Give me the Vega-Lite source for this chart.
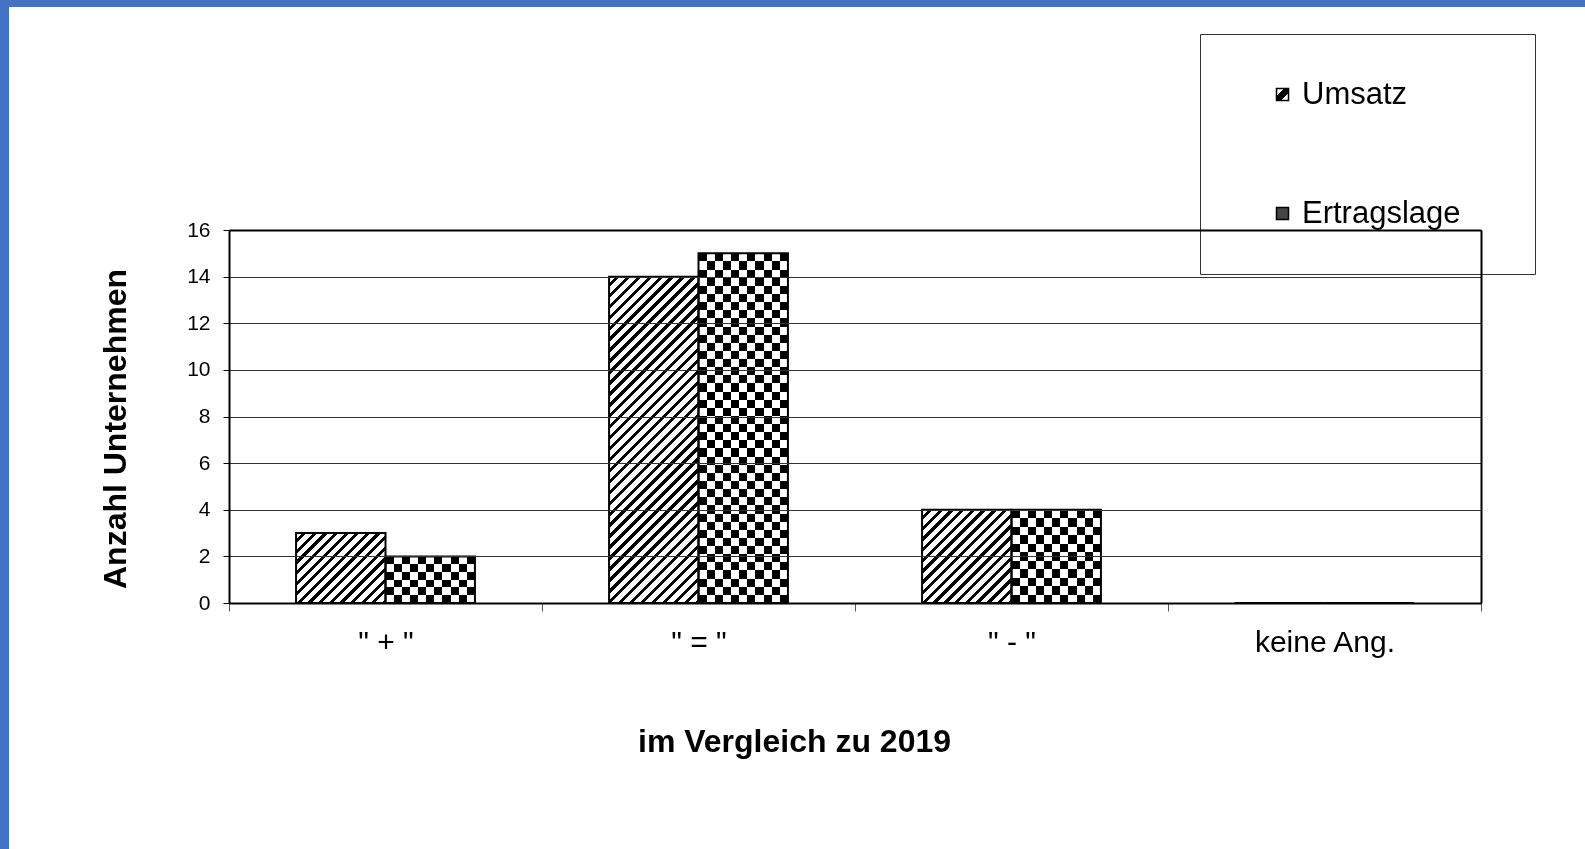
{
  "$schema": "https://vega.github.io/schema/vega-lite/v6.json",
  "width": 1576,
  "height": 842,
  "autosize": "none",
  "padding": {"left": 9, "top": 7, "right": 0, "bottom": 0},
  "background": "#4472C4",
  "config": {
    "font": "Liberation Sans",
    "view": {"stroke": null, "fill": "white"},
    "axis": {"labelColor": "#000", "titleColor": "#000", "domainColor": "#000", "tickColor": "#000", "labelFont": "Liberation Sans", "titleFont": "Liberation Sans"}
  },
  "data": {
    "values": [
      {"cat": "\" + \"", "series": "Umsatz", "value": 3},
      {"cat": "\" + \"", "series": "Ertragslage", "value": 2},
      {"cat": "\" = \"", "series": "Umsatz", "value": 14},
      {"cat": "\" = \"", "series": "Ertragslage", "value": 15},
      {"cat": "\" - \"", "series": "Umsatz", "value": 4},
      {"cat": "\" - \"", "series": "Ertragslage", "value": 4},
      {"cat": "keine Ang.", "series": "Umsatz", "value": 0},
      {"cat": "keine Ang.", "series": "Ertragslage", "value": 0}
    ]
  },
  "layer": [
    {
      "mark": {"type": "bar"},
      "encoding": {
        "x": {
          "field": "cat", "type": "nominal",
          "scale": {"domain": ["\" + \"", "\" = \"", "\" - \"", "keine Ang."], "range": [220, 1472], "paddingInner": 0, "paddingOuter": 0},
          "axis": {
            "orient": "bottom", "offset": -246, "tickBand": "extent", "ticks": true, "tickSize": 8, "tickColor": "#555", "tickWidth": 1,
            "domain": true, "domainWidth": 2, "grid": false, "labelAngle": 0, "labelFontSize": 30, "labelPadding": 16, "labelLimit": 400,
            "title": "im Vergleich zu 2019", "titleFontSize": 32, "titleFontWeight": "bold", "titleX": 785, "titleY": 123, "titleBaseline": "top", "zindex": 1
          }
        },
        "xOffset": {"field": "series", "type": "nominal", "scale": {"domain": ["Umsatz", "Ertragslage"], "paddingInner": 0, "paddingOuter": 0.75}},
        "y": {
          "field": "value", "type": "quantitative",
          "scale": {"domain": [0, 16], "range": [596, 223], "nice": false},
          "axis": {
            "orient": "left", "offset": -220, "values": [0, 2, 4, 6, 8, 10, 12, 14, 16], "grid": true, "gridColor": "#333", "gridWidth": 1,
            "domain": true, "domainWidth": 2, "ticks": true, "tickSize": 6, "labelFontSize": 21, "labelPadding": 13,
            "title": "Anzahl Unternehmen", "titleFontSize": 32, "titleFontWeight": "bold", "titleX": -97, "titleY": 421.5, "zindex": 1
          }
        },
        "fill": {
          "value": "#777777",
          "condition": [
            {"test": "datum.series==='Umsatz' && datum.value===3", "value": {"gradient": "linear", "x1": 0, "y1": 0, "x2": 1.1058, "y2": 0.8648, "stops": [
              {"offset": 0, "color": "#fff"}, {"offset": 0.04, "color": "#fff"}, {"offset": 0.04, "color": "#000"}, {"offset": 0.0667, "color": "#000"},
              {"offset": 0.0667, "color": "#fff"}, {"offset": 0.1067, "color": "#fff"}, {"offset": 0.1067, "color": "#000"}, {"offset": 0.1333, "color": "#000"},
              {"offset": 0.1333, "color": "#fff"}, {"offset": 0.1733, "color": "#fff"}, {"offset": 0.1733, "color": "#000"}, {"offset": 0.2, "color": "#000"},
              {"offset": 0.2, "color": "#fff"}, {"offset": 0.24, "color": "#fff"}, {"offset": 0.24, "color": "#000"}, {"offset": 0.2667, "color": "#000"},
              {"offset": 0.2667, "color": "#fff"}, {"offset": 0.3067, "color": "#fff"}, {"offset": 0.3067, "color": "#000"}, {"offset": 0.3333, "color": "#000"},
              {"offset": 0.3333, "color": "#fff"}, {"offset": 0.3733, "color": "#fff"}, {"offset": 0.3733, "color": "#000"}, {"offset": 0.4, "color": "#000"},
              {"offset": 0.4, "color": "#fff"}, {"offset": 0.44, "color": "#fff"}, {"offset": 0.44, "color": "#000"}, {"offset": 0.4667, "color": "#000"},
              {"offset": 0.4667, "color": "#fff"}, {"offset": 0.5067, "color": "#fff"}, {"offset": 0.5067, "color": "#000"}, {"offset": 0.5333, "color": "#000"},
              {"offset": 0.5333, "color": "#fff"}, {"offset": 0.5733, "color": "#fff"}, {"offset": 0.5733, "color": "#000"}, {"offset": 0.6, "color": "#000"},
              {"offset": 0.6, "color": "#fff"}, {"offset": 0.64, "color": "#fff"}, {"offset": 0.64, "color": "#000"}, {"offset": 0.6667, "color": "#000"},
              {"offset": 0.6667, "color": "#fff"}, {"offset": 0.7067, "color": "#fff"}, {"offset": 0.7067, "color": "#000"}, {"offset": 0.7333, "color": "#000"},
              {"offset": 0.7333, "color": "#fff"}, {"offset": 0.7733, "color": "#fff"}, {"offset": 0.7733, "color": "#000"}, {"offset": 0.8, "color": "#000"},
              {"offset": 0.8, "color": "#fff"}, {"offset": 0.84, "color": "#fff"}, {"offset": 0.84, "color": "#000"}, {"offset": 0.8667, "color": "#000"},
              {"offset": 0.8667, "color": "#fff"}, {"offset": 0.9067, "color": "#fff"}, {"offset": 0.9067, "color": "#000"}, {"offset": 0.9333, "color": "#000"},
              {"offset": 0.9333, "color": "#fff"}, {"offset": 0.9733, "color": "#fff"}, {"offset": 0.9733, "color": "#000"}, {"offset": 1, "color": "#000"}
            ]}},
            {"test": "datum.series==='Umsatz' && datum.value===14", "value": {"gradient": "linear", "x1": 0, "y1": 0, "x2": 0.3247, "y2": 1.185, "stops": [
              {"offset": 0, "color": "#fff"}, {"offset": 0.0158, "color": "#fff"}, {"offset": 0.0158, "color": "#000"}, {"offset": 0.0263, "color": "#000"},
              {"offset": 0.0263, "color": "#fff"}, {"offset": 0.0421, "color": "#fff"}, {"offset": 0.0421, "color": "#000"}, {"offset": 0.0526, "color": "#000"},
              {"offset": 0.0526, "color": "#fff"}, {"offset": 0.0684, "color": "#fff"}, {"offset": 0.0684, "color": "#000"}, {"offset": 0.0789, "color": "#000"},
              {"offset": 0.0789, "color": "#fff"}, {"offset": 0.0947, "color": "#fff"}, {"offset": 0.0947, "color": "#000"}, {"offset": 0.1053, "color": "#000"},
              {"offset": 0.1053, "color": "#fff"}, {"offset": 0.1211, "color": "#fff"}, {"offset": 0.1211, "color": "#000"}, {"offset": 0.1316, "color": "#000"},
              {"offset": 0.1316, "color": "#fff"}, {"offset": 0.1474, "color": "#fff"}, {"offset": 0.1474, "color": "#000"}, {"offset": 0.1579, "color": "#000"},
              {"offset": 0.1579, "color": "#fff"}, {"offset": 0.1737, "color": "#fff"}, {"offset": 0.1737, "color": "#000"}, {"offset": 0.1842, "color": "#000"},
              {"offset": 0.1842, "color": "#fff"}, {"offset": 0.2, "color": "#fff"}, {"offset": 0.2, "color": "#000"}, {"offset": 0.2105, "color": "#000"},
              {"offset": 0.2105, "color": "#fff"}, {"offset": 0.2263, "color": "#fff"}, {"offset": 0.2263, "color": "#000"}, {"offset": 0.2368, "color": "#000"},
              {"offset": 0.2368, "color": "#fff"}, {"offset": 0.2526, "color": "#fff"}, {"offset": 0.2526, "color": "#000"}, {"offset": 0.2632, "color": "#000"},
              {"offset": 0.2632, "color": "#fff"}, {"offset": 0.2789, "color": "#fff"}, {"offset": 0.2789, "color": "#000"}, {"offset": 0.2895, "color": "#000"},
              {"offset": 0.2895, "color": "#fff"}, {"offset": 0.3053, "color": "#fff"}, {"offset": 0.3053, "color": "#000"}, {"offset": 0.3158, "color": "#000"},
              {"offset": 0.3158, "color": "#fff"}, {"offset": 0.3316, "color": "#fff"}, {"offset": 0.3316, "color": "#000"}, {"offset": 0.3421, "color": "#000"},
              {"offset": 0.3421, "color": "#fff"}, {"offset": 0.3579, "color": "#fff"}, {"offset": 0.3579, "color": "#000"}, {"offset": 0.3684, "color": "#000"},
              {"offset": 0.3684, "color": "#fff"}, {"offset": 0.3842, "color": "#fff"}, {"offset": 0.3842, "color": "#000"}, {"offset": 0.3947, "color": "#000"},
              {"offset": 0.3947, "color": "#fff"}, {"offset": 0.4105, "color": "#fff"}, {"offset": 0.4105, "color": "#000"}, {"offset": 0.4211, "color": "#000"},
              {"offset": 0.4211, "color": "#fff"}, {"offset": 0.4368, "color": "#fff"}, {"offset": 0.4368, "color": "#000"}, {"offset": 0.4474, "color": "#000"},
              {"offset": 0.4474, "color": "#fff"}, {"offset": 0.4632, "color": "#fff"}, {"offset": 0.4632, "color": "#000"}, {"offset": 0.4737, "color": "#000"},
              {"offset": 0.4737, "color": "#fff"}, {"offset": 0.4895, "color": "#fff"}, {"offset": 0.4895, "color": "#000"}, {"offset": 0.5, "color": "#000"},
              {"offset": 0.5, "color": "#fff"}, {"offset": 0.5158, "color": "#fff"}, {"offset": 0.5158, "color": "#000"}, {"offset": 0.5263, "color": "#000"},
              {"offset": 0.5263, "color": "#fff"}, {"offset": 0.5421, "color": "#fff"}, {"offset": 0.5421, "color": "#000"}, {"offset": 0.5526, "color": "#000"},
              {"offset": 0.5526, "color": "#fff"}, {"offset": 0.5684, "color": "#fff"}, {"offset": 0.5684, "color": "#000"}, {"offset": 0.5789, "color": "#000"},
              {"offset": 0.5789, "color": "#fff"}, {"offset": 0.5947, "color": "#fff"}, {"offset": 0.5947, "color": "#000"}, {"offset": 0.6053, "color": "#000"},
              {"offset": 0.6053, "color": "#fff"}, {"offset": 0.6211, "color": "#fff"}, {"offset": 0.6211, "color": "#000"}, {"offset": 0.6316, "color": "#000"},
              {"offset": 0.6316, "color": "#fff"}, {"offset": 0.6474, "color": "#fff"}, {"offset": 0.6474, "color": "#000"}, {"offset": 0.6579, "color": "#000"},
              {"offset": 0.6579, "color": "#fff"}, {"offset": 0.6737, "color": "#fff"}, {"offset": 0.6737, "color": "#000"}, {"offset": 0.6842, "color": "#000"},
              {"offset": 0.6842, "color": "#fff"}, {"offset": 0.7, "color": "#fff"}, {"offset": 0.7, "color": "#000"}, {"offset": 0.7105, "color": "#000"},
              {"offset": 0.7105, "color": "#fff"}, {"offset": 0.7263, "color": "#fff"}, {"offset": 0.7263, "color": "#000"}, {"offset": 0.7368, "color": "#000"},
              {"offset": 0.7368, "color": "#fff"}, {"offset": 0.7526, "color": "#fff"}, {"offset": 0.7526, "color": "#000"}, {"offset": 0.7632, "color": "#000"},
              {"offset": 0.7632, "color": "#fff"}, {"offset": 0.7789, "color": "#fff"}, {"offset": 0.7789, "color": "#000"}, {"offset": 0.7895, "color": "#000"},
              {"offset": 0.7895, "color": "#fff"}, {"offset": 0.8053, "color": "#fff"}, {"offset": 0.8053, "color": "#000"}, {"offset": 0.8158, "color": "#000"},
              {"offset": 0.8158, "color": "#fff"}, {"offset": 0.8316, "color": "#fff"}, {"offset": 0.8316, "color": "#000"}, {"offset": 0.8421, "color": "#000"},
              {"offset": 0.8421, "color": "#fff"}, {"offset": 0.8579, "color": "#fff"}, {"offset": 0.8579, "color": "#000"}, {"offset": 0.8684, "color": "#000"},
              {"offset": 0.8684, "color": "#fff"}, {"offset": 0.8842, "color": "#fff"}, {"offset": 0.8842, "color": "#000"}, {"offset": 0.8947, "color": "#000"},
              {"offset": 0.8947, "color": "#fff"}, {"offset": 0.9105, "color": "#fff"}, {"offset": 0.9105, "color": "#000"}, {"offset": 0.9211, "color": "#000"},
              {"offset": 0.9211, "color": "#fff"}, {"offset": 0.9368, "color": "#fff"}, {"offset": 0.9368, "color": "#000"}, {"offset": 0.9474, "color": "#000"},
              {"offset": 0.9474, "color": "#fff"}, {"offset": 0.9632, "color": "#fff"}, {"offset": 0.9632, "color": "#000"}, {"offset": 0.9737, "color": "#000"},
              {"offset": 0.9737, "color": "#fff"}, {"offset": 0.9895, "color": "#fff"}, {"offset": 0.9895, "color": "#000"}, {"offset": 1, "color": "#000"}
            ]}},
            {"test": "datum.series==='Umsatz' && datum.value===4", "value": {"gradient": "linear", "x1": 0, "y1": 0, "x2": 0.9787, "y2": 1.0205, "stops": [
              {"offset": 0, "color": "#fff"}, {"offset": 0.0353, "color": "#fff"}, {"offset": 0.0353, "color": "#000"}, {"offset": 0.0588, "color": "#000"},
              {"offset": 0.0588, "color": "#fff"}, {"offset": 0.0941, "color": "#fff"}, {"offset": 0.0941, "color": "#000"}, {"offset": 0.1176, "color": "#000"},
              {"offset": 0.1176, "color": "#fff"}, {"offset": 0.1529, "color": "#fff"}, {"offset": 0.1529, "color": "#000"}, {"offset": 0.1765, "color": "#000"},
              {"offset": 0.1765, "color": "#fff"}, {"offset": 0.2118, "color": "#fff"}, {"offset": 0.2118, "color": "#000"}, {"offset": 0.2353, "color": "#000"},
              {"offset": 0.2353, "color": "#fff"}, {"offset": 0.2706, "color": "#fff"}, {"offset": 0.2706, "color": "#000"}, {"offset": 0.2941, "color": "#000"},
              {"offset": 0.2941, "color": "#fff"}, {"offset": 0.3294, "color": "#fff"}, {"offset": 0.3294, "color": "#000"}, {"offset": 0.3529, "color": "#000"},
              {"offset": 0.3529, "color": "#fff"}, {"offset": 0.3882, "color": "#fff"}, {"offset": 0.3882, "color": "#000"}, {"offset": 0.4118, "color": "#000"},
              {"offset": 0.4118, "color": "#fff"}, {"offset": 0.4471, "color": "#fff"}, {"offset": 0.4471, "color": "#000"}, {"offset": 0.4706, "color": "#000"},
              {"offset": 0.4706, "color": "#fff"}, {"offset": 0.5059, "color": "#fff"}, {"offset": 0.5059, "color": "#000"}, {"offset": 0.5294, "color": "#000"},
              {"offset": 0.5294, "color": "#fff"}, {"offset": 0.5647, "color": "#fff"}, {"offset": 0.5647, "color": "#000"}, {"offset": 0.5882, "color": "#000"},
              {"offset": 0.5882, "color": "#fff"}, {"offset": 0.6235, "color": "#fff"}, {"offset": 0.6235, "color": "#000"}, {"offset": 0.6471, "color": "#000"},
              {"offset": 0.6471, "color": "#fff"}, {"offset": 0.6824, "color": "#fff"}, {"offset": 0.6824, "color": "#000"}, {"offset": 0.7059, "color": "#000"},
              {"offset": 0.7059, "color": "#fff"}, {"offset": 0.7412, "color": "#fff"}, {"offset": 0.7412, "color": "#000"}, {"offset": 0.7647, "color": "#000"},
              {"offset": 0.7647, "color": "#fff"}, {"offset": 0.8, "color": "#fff"}, {"offset": 0.8, "color": "#000"}, {"offset": 0.8235, "color": "#000"},
              {"offset": 0.8235, "color": "#fff"}, {"offset": 0.8588, "color": "#fff"}, {"offset": 0.8588, "color": "#000"}, {"offset": 0.8824, "color": "#000"},
              {"offset": 0.8824, "color": "#fff"}, {"offset": 0.9176, "color": "#fff"}, {"offset": 0.9176, "color": "#000"}, {"offset": 0.9412, "color": "#000"},
              {"offset": 0.9412, "color": "#fff"}, {"offset": 0.9765, "color": "#fff"}, {"offset": 0.9765, "color": "#000"}, {"offset": 1, "color": "#000"}
            ]}},
            {"test": "datum.series==='Ertragslage' && datum.value===2", "value": {"gradient": "linear", "x1": 0, "y1": 0, "x2": 0, "y2": 1, "stops": [
              {"offset": 0, "color": "#fff"}, {"offset": 0.1667, "color": "#fff"}, {"offset": 0.1667, "color": "#000"}, {"offset": 0.3333, "color": "#000"},
              {"offset": 0.3333, "color": "#fff"}, {"offset": 0.5, "color": "#fff"}, {"offset": 0.5, "color": "#000"}, {"offset": 0.6667, "color": "#000"},
              {"offset": 0.6667, "color": "#fff"}, {"offset": 0.8333, "color": "#fff"}, {"offset": 0.8333, "color": "#000"}, {"offset": 1, "color": "#000"}
            ]}},
            {"test": "datum.series==='Ertragslage' && datum.value===4", "value": {"gradient": "linear", "x1": 0, "y1": 0, "x2": 0, "y2": 1, "stops": [
              {"offset": 0, "color": "#fff"}, {"offset": 0.0909, "color": "#fff"}, {"offset": 0.0909, "color": "#000"}, {"offset": 0.1818, "color": "#000"},
              {"offset": 0.1818, "color": "#fff"}, {"offset": 0.2727, "color": "#fff"}, {"offset": 0.2727, "color": "#000"}, {"offset": 0.3636, "color": "#000"},
              {"offset": 0.3636, "color": "#fff"}, {"offset": 0.4545, "color": "#fff"}, {"offset": 0.4545, "color": "#000"}, {"offset": 0.5455, "color": "#000"},
              {"offset": 0.5455, "color": "#fff"}, {"offset": 0.6364, "color": "#fff"}, {"offset": 0.6364, "color": "#000"}, {"offset": 0.7273, "color": "#000"},
              {"offset": 0.7273, "color": "#fff"}, {"offset": 0.8182, "color": "#fff"}, {"offset": 0.8182, "color": "#000"}, {"offset": 0.9091, "color": "#000"},
              {"offset": 0.9091, "color": "#fff"}, {"offset": 1, "color": "#fff"}
            ]}},
            {"test": "datum.series==='Ertragslage' && datum.value===15", "value": {"gradient": "linear", "x1": 0, "y1": 0, "x2": 0, "y2": 1, "stops": [
              {"offset": 0, "color": "#fff"}, {"offset": 0.0233, "color": "#fff"}, {"offset": 0.0233, "color": "#000"}, {"offset": 0.0465, "color": "#000"},
              {"offset": 0.0465, "color": "#fff"}, {"offset": 0.0698, "color": "#fff"}, {"offset": 0.0698, "color": "#000"}, {"offset": 0.093, "color": "#000"},
              {"offset": 0.093, "color": "#fff"}, {"offset": 0.1163, "color": "#fff"}, {"offset": 0.1163, "color": "#000"}, {"offset": 0.1395, "color": "#000"},
              {"offset": 0.1395, "color": "#fff"}, {"offset": 0.1628, "color": "#fff"}, {"offset": 0.1628, "color": "#000"}, {"offset": 0.186, "color": "#000"},
              {"offset": 0.186, "color": "#fff"}, {"offset": 0.2093, "color": "#fff"}, {"offset": 0.2093, "color": "#000"}, {"offset": 0.2326, "color": "#000"},
              {"offset": 0.2326, "color": "#fff"}, {"offset": 0.2558, "color": "#fff"}, {"offset": 0.2558, "color": "#000"}, {"offset": 0.2791, "color": "#000"},
              {"offset": 0.2791, "color": "#fff"}, {"offset": 0.3023, "color": "#fff"}, {"offset": 0.3023, "color": "#000"}, {"offset": 0.3256, "color": "#000"},
              {"offset": 0.3256, "color": "#fff"}, {"offset": 0.3488, "color": "#fff"}, {"offset": 0.3488, "color": "#000"}, {"offset": 0.3721, "color": "#000"},
              {"offset": 0.3721, "color": "#fff"}, {"offset": 0.3953, "color": "#fff"}, {"offset": 0.3953, "color": "#000"}, {"offset": 0.4186, "color": "#000"},
              {"offset": 0.4186, "color": "#fff"}, {"offset": 0.4419, "color": "#fff"}, {"offset": 0.4419, "color": "#000"}, {"offset": 0.4651, "color": "#000"},
              {"offset": 0.4651, "color": "#fff"}, {"offset": 0.4884, "color": "#fff"}, {"offset": 0.4884, "color": "#000"}, {"offset": 0.5116, "color": "#000"},
              {"offset": 0.5116, "color": "#fff"}, {"offset": 0.5349, "color": "#fff"}, {"offset": 0.5349, "color": "#000"}, {"offset": 0.5581, "color": "#000"},
              {"offset": 0.5581, "color": "#fff"}, {"offset": 0.5814, "color": "#fff"}, {"offset": 0.5814, "color": "#000"}, {"offset": 0.6047, "color": "#000"},
              {"offset": 0.6047, "color": "#fff"}, {"offset": 0.6279, "color": "#fff"}, {"offset": 0.6279, "color": "#000"}, {"offset": 0.6512, "color": "#000"},
              {"offset": 0.6512, "color": "#fff"}, {"offset": 0.6744, "color": "#fff"}, {"offset": 0.6744, "color": "#000"}, {"offset": 0.6977, "color": "#000"},
              {"offset": 0.6977, "color": "#fff"}, {"offset": 0.7209, "color": "#fff"}, {"offset": 0.7209, "color": "#000"}, {"offset": 0.7442, "color": "#000"},
              {"offset": 0.7442, "color": "#fff"}, {"offset": 0.7674, "color": "#fff"}, {"offset": 0.7674, "color": "#000"}, {"offset": 0.7907, "color": "#000"},
              {"offset": 0.7907, "color": "#fff"}, {"offset": 0.814, "color": "#fff"}, {"offset": 0.814, "color": "#000"}, {"offset": 0.8372, "color": "#000"},
              {"offset": 0.8372, "color": "#fff"}, {"offset": 0.8605, "color": "#fff"}, {"offset": 0.8605, "color": "#000"}, {"offset": 0.8837, "color": "#000"},
              {"offset": 0.8837, "color": "#fff"}, {"offset": 0.907, "color": "#fff"}, {"offset": 0.907, "color": "#000"}, {"offset": 0.9302, "color": "#000"},
              {"offset": 0.9302, "color": "#fff"}, {"offset": 0.9535, "color": "#fff"}, {"offset": 0.9535, "color": "#000"}, {"offset": 0.9767, "color": "#000"},
              {"offset": 0.9767, "color": "#fff"}, {"offset": 1, "color": "#fff"}
            ]}}
          ]
        }
      }
    },
    {
      "transform": [{"filter": "datum.series==='Ertragslage' && datum.value>0"}],
      "mark": {"type": "bar", "blend": "difference", "strokeWidth": 0, "fill": {"gradient": "linear", "x1": 0, "y1": 0, "x2": 1, "y2": 0, "stops": [
        {"offset": 0, "color": "#fff"}, {"offset": 0.0909, "color": "#fff"}, {"offset": 0.0909, "color": "#000"}, {"offset": 0.1818, "color": "#000"},
        {"offset": 0.1818, "color": "#fff"}, {"offset": 0.2727, "color": "#fff"}, {"offset": 0.2727, "color": "#000"}, {"offset": 0.3636, "color": "#000"},
        {"offset": 0.3636, "color": "#fff"}, {"offset": 0.4545, "color": "#fff"}, {"offset": 0.4545, "color": "#000"}, {"offset": 0.5455, "color": "#000"},
        {"offset": 0.5455, "color": "#fff"}, {"offset": 0.6364, "color": "#fff"}, {"offset": 0.6364, "color": "#000"}, {"offset": 0.7273, "color": "#000"},
        {"offset": 0.7273, "color": "#fff"}, {"offset": 0.8182, "color": "#fff"}, {"offset": 0.8182, "color": "#000"}, {"offset": 0.9091, "color": "#000"},
        {"offset": 0.9091, "color": "#fff"}, {"offset": 1, "color": "#fff"}
      ]}},
      "encoding": {
        "x": {"field": "cat", "type": "nominal", "axis": null},
        "xOffset": {"field": "series", "type": "nominal"},
        "y": {"field": "value", "type": "quantitative", "axis": null}
      }
    },
    {
      "mark": {"type": "bar", "fillOpacity": 0, "strokeWidth": 2},
      "encoding": {
        "x": {"field": "cat", "type": "nominal", "axis": {"orient": "top", "offset": -223, "domain": true, "domainWidth": 2, "labels": false, "ticks": false, "grid": false, "title": null, "zindex": 1}},
        "xOffset": {"field": "series", "type": "nominal"},
        "y": {"field": "value", "type": "quantitative", "axis": {"orient": "right", "offset": -104, "domain": true, "domainWidth": 2, "labels": false, "ticks": false, "grid": false, "title": null, "zindex": 1}},
        "stroke": {
          "field": "series", "type": "nominal",
          "scale": {"domain": ["Umsatz", "Ertragslage"], "range": ["#000000", "#000000"]},
          "legend": {
            "orient": "none", "legendX": 1191, "legendY": 27, "title": null, "padding": 45, "rowPadding": 87, "symbolOffset": 22,
            "symbolType": "square", "symbolSize": 144, "symbolStrokeWidth": 1.5,
            "labelFontSize": 31, "labelFont": "Liberation Sans", "labelColor": "#000", "labelOffset": 4, "labelLimit": 400,
            "fillColor": "#fff", "strokeColor": "#333", "labelExpr": "datum.label + '\u2009\u2800'",
            "encoding": {"symbols": {"strokeWidth": {"value": 1.5}, "fillOpacity": {"value": 1}, "opacity": {"value": 1}, "fill": {"condition": {"test": "datum.value==='Umsatz'", "value": {"gradient": "linear", "x1": 0, "y1": 0, "x2": 1, "y2": 1, "stops": [{"offset": 0, "color": "#fff"}, {"offset": 0.33, "color": "#fff"}, {"offset": 0.33, "color": "#000"}, {"offset": 0.67, "color": "#000"}, {"offset": 0.67, "color": "#fff"}, {"offset": 1, "color": "#fff"}]}}, "value": "#444444"}}}
          }
        }
      }
    }
  ],
  "resolve": {"axis": {"x": "independent", "y": "independent"}}
}
